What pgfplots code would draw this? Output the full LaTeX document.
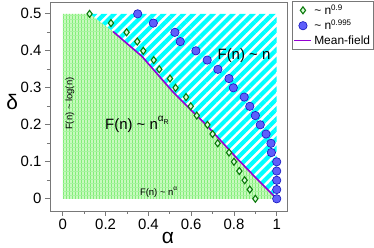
\documentclass[border=0pt]{standalone}
\usepackage{fontspec}
\setmainfont{Liberation Sans}
\usepackage{pgfplots}
\pgfplotsset{compat=1.18}
\usetikzlibrary{patterns.meta}
\definecolor{mfviolet}{RGB}{148,0,211}
\definecolor{lgreen}{RGB}{200,250,190}
\definecolor{pgreen}{RGB}{130,238,120}
\definecolor{dgreen}{RGB}{10,120,10}
\definecolor{cblue}{RGB}{95,95,250}
\definecolor{eblue}{RGB}{20,20,190}
\definecolor{axgray}{RGB}{120,120,120}
\begin{document}
\begin{tikzpicture}
\begin{axis}[
  scale only axis, width=237bp, height=209bp,
  xmin=-0.06, xmax=1.048, ymin=-0.033, ymax=0.532,
  axis line style={axgray, line width=0.8pt},
  tick align=outside, xtick pos=bottom, ytick pos=left,
  tick style={axgray, line width=0.7pt},
  major tick length=5bp, minor tick length=3bp,
  minor tick num=1,
  xtick={0,0.2,0.4,0.6,0.8,1}, xticklabels={0,0.2,0.4,0.6,0.8,1},
  ytick={0,0.1,0.2,0.3,0.4,0.5}, yticklabels={0,0.1,0.2,0.3,0.4,0.5},
  ticklabel style={font=\fontsize{15}{15}\selectfont},
  /pgf/number format/assume math mode=true,
  legend style={at={(rel axis cs:1.021,1.005)}, anchor=north west, draw=axgray,
    font=\fontsize{12}{12}\selectfont, inner sep=1.5bp, row sep=0bp},
  legend cell align=left,
  clip=false,
]
% green region
\addplot[draw=none, fill=lgreen, forget plot] coordinates {
 (0,0.5) (0.126,0.5) (0.235,0.452) (0.37,0.385) (0.516,0.288) (0.594,0.243) (0.672,0.199) (0.813,0.11) (0.9,0.058) (1,0) (0,0)} -- cycle;
\addplot[draw=none, pattern={Lines[angle=90,distance=3bp,line width=1bp]}, pattern color=pgreen, forget plot] coordinates {
 (0,0.5) (0.126,0.5) (0.235,0.452) (0.37,0.385) (0.516,0.288) (0.594,0.243) (0.672,0.199) (0.813,0.11) (0.9,0.058) (1,0) (0,0)} -- cycle;
\addplot[draw=none, pattern={Lines[angle=0,distance=4bp,line width=0.8bp]}, pattern color=pgreen!70, forget plot] coordinates {
 (0,0.5) (0.126,0.5) (0.235,0.452) (0.37,0.385) (0.516,0.288) (0.594,0.243) (0.672,0.199) (0.813,0.11) (0.9,0.058) (1,0) (0,0)} -- cycle;
% cyan region
\addplot[draw=none, pattern={Lines[angle=45,distance=7bp,line width=4.2bp]}, pattern color=cyan, forget plot] coordinates {
 (0.126,0.5) (1,0.5) (1,0) (0.9,0.058) (0.813,0.11) (0.672,0.199) (0.594,0.243) (0.516,0.288) (0.37,0.385) (0.235,0.452)} -- cycle;
% mean-field line
\addplot[mfviolet, line width=1.6pt, forget plot] coordinates {
 (0.235,0.452) (0.37,0.385) (0.516,0.288) (0.594,0.243) (0.672,0.199) (0.813,0.11) (0.9,0.058) (1,0)};
% n^0.9
\addplot[only marks, mark=diamond*, mark size=3.5pt, draw=dgreen, fill=green!15, line width=1.1pt] coordinates {
 (0.125,0.5) (0.225,0.475) (0.298,0.45) (0.348,0.425) (0.376,0.4) (0.425,0.375) (0.451,0.35) (0.501,0.325) (0.527,0.3) (0.576,0.275) (0.598,0.25) (0.626,0.225) (0.676,0.2) (0.70,0.175) (0.724,0.15) (0.777,0.125) (0.80,0.1) (0.825,0.075) (0.85,0.05) (0.874,0.025) (0.90,0)};
\addlegendentry{\textasciitilde\ n\textsuperscript{0.9}}
% n^0.995
\addplot[only marks, mark=*, mark size=4.2pt, draw=eblue, fill=cblue, line width=0.6pt] coordinates {
 (0.35,0.5) (0.423,0.475) (0.524,0.45) (0.549,0.425) (0.622,0.4) (0.675,0.375) (0.725,0.35) (0.777,0.325) (0.797,0.3) (0.848,0.275) (0.874,0.25) (0.90,0.225) (0.923,0.2) (0.95,0.175) (0.973,0.15) (0.975,0.125) (1,0.1) (1,0.075) (1,0.05) (1,0.025) (1,0)};
\addlegendentry{\textasciitilde\ n\textsuperscript{0.995}}
\addlegendimage{mfviolet, line width=1.6pt}
\addlegendentry{Mean-field}
% texts
\node[font=\fontsize{15}{15}\selectfont] at (axis cs:0.847,0.386) {F(n) \textasciitilde\ n};
\node[font=\fontsize{15}{15}\selectfont, anchor=base west, inner sep=0pt] at (axis cs:0.197,0.188) {F(n) \textasciitilde\ n\raisebox{1.0ex}{\fontsize{10}{10}\selectfont α\raisebox{-0.6ex}{\fontsize{7}{7}\selectfont R}}};
\node[font=\fontsize{9.5}{9.5}\selectfont, anchor=base west, inner sep=0pt] at (axis cs:0.36,0.01) {F(n) \textasciitilde\ n\raisebox{0.9ex}{\fontsize{6.5}{6.5}\selectfont α}};
\node[font=\fontsize{9.5}{9.5}\selectfont, anchor=west, rotate=90, inner sep=0pt] at (axis cs:0.033,0.186) {F(n) \textasciitilde\ log(n)};
\node[font=\fontsize{21}{21}\selectfont] at (rel axis cs:0.498,-0.129) {α};
\node[font=\fontsize{21}{21}\selectfont] at (rel axis cs:-0.16,0.52) {δ};
\end{axis}
\path (current axis.south west) ++(-50bp,-36bp) rectangle ++(374bp,247bp);
\end{tikzpicture}
\end{document}
